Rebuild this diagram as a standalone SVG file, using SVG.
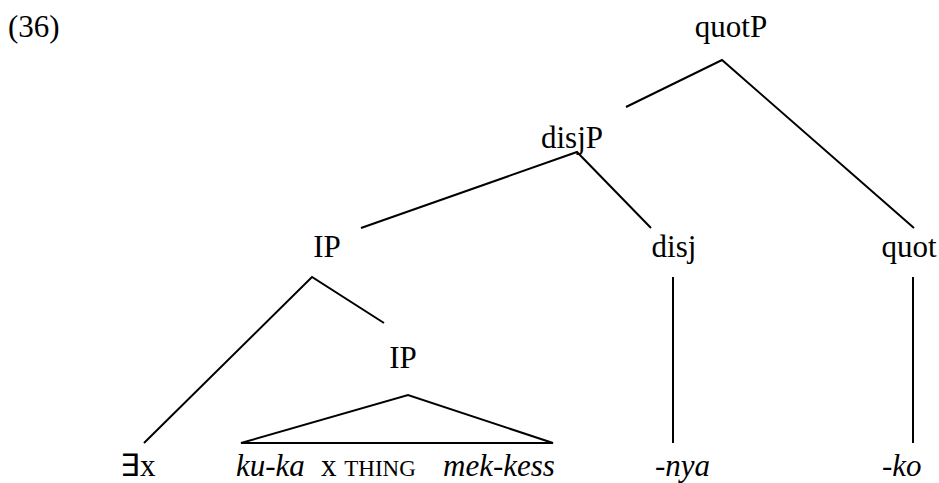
<svg xmlns="http://www.w3.org/2000/svg" width="939" height="483" viewBox="0 0 939 483">
<style>
.t text{font-family:'Liberation Serif','Times New Roman',Times,serif;font-size:31px;fill:#000}
.m{text-anchor:middle}
.i{font-style:italic}
.sc{font-size:23px}
.e line,.e polyline,.e polygon{stroke:#000;stroke-width:2;fill:none}
</style>
<rect width="939" height="483" fill="#fff"/>
<g class="t" font-family="Liberation Serif, Times New Roman, serif" font-size="31">
<text x="8" y="37">(36)</text>
<g id="quotP"><text class="m" x="731" y="37">quotP</text></g>
<g id="disjP"><text class="m" x="572" y="148">disjP</text></g>
<g id="IP1"><text class="m" x="327" y="257">IP</text></g>
<g id="disj"><text class="m" x="674" y="257">disj</text></g>
<g id="quot"><text class="m" x="909" y="257">quot</text></g>
<g id="IP2"><text class="m" x="403" y="368">IP</text></g>
<g id="exists"><text x="120" y="476">∃x</text></g>
<g id="clause"><text x="236" y="476" class="i">ku-ka</text><text x="321" y="476">x <tspan class="sc" font-size="23">THING</tspan></text><text x="443" y="476" class="i">mek-kess</text></g>
<g id="nya"><text x="655" y="476" class="i">-nya</text></g>
<g id="ko"><text x="882" y="476" class="i">-ko</text></g>
</g>
<g id="connectors" class="e">
<polyline points="626,107 722,60 914,228"/>
<polyline points="361,228 577,152 651,228"/>
<polyline points="144,443 312,277 384,323"/>
<polygon points="241,443 408,395 553,443"/>
<line x1="673" y1="277" x2="673" y2="443"/>
<line x1="913" y1="277" x2="913" y2="443"/>
</g>
</svg>
